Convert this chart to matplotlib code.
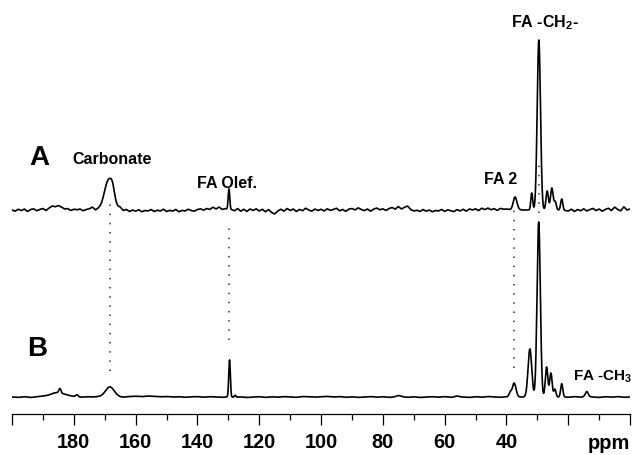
"""
13C NMR spectra A and B (stacked), with peak assignments and dotted guide lines.
"""

import matplotlib.pyplot as plt
import numpy as np
from matplotlib.ticker import FixedLocator, MultipleLocator

plt.rcParams["font.family"] = ["Liberation Sans", "DejaVu Sans"]
plt.rcParams["font.weight"] = "bold"
plt.rcParams["mathtext.default"] = "regular"

# peak tables: (centre ppm, height a.u., FWHM ppm)
PEAKS_A = [
    (168.7, 30.0, 3.2), (167.4, 8.0, 1.5),
    (129.8, 21.0, 0.6),
    (37.2, 13.0, 1.4),
    (31.8, 17.0, 0.7),
    (29.5, 170.0, 1.25),
    (26.8, 19.0, 0.9), (25.3, 22.0, 1.0), (24.2, 8.0, 0.8),
    (22.1, 11.0, 0.8),
]
PEAKS_B = [
    (185.5, 3.5, 5.0), (184.5, 4.5, 0.8), (179.0, 2.0, 1.0),
    (168.3, 10.0, 3.2),
    (129.6, 37.0, 0.6), (127.8, 2.0, 0.6),
    (75.0, 1.2, 1.5), (56.0, 0.8, 1.5),
    (38.8, 4.0, 0.9), (37.5, 14.0, 1.4),
    (32.4, 48.0, 1.4),
    (29.55, 175.0, 1.25),
    (27.0, 30.0, 0.95), (25.6, 24.0, 0.95), (24.3, 8.0, 0.8),
    (22.1, 13.0, 0.8),
    (14.0, 5.0, 1.1),
]

# baseline noise (A: every 1 ppm, B: every 2 ppm, from 200 down to 0)
NOISE_A = [
    0.0, -1.2, 0.8, -0.6, 1.0, -1.5, 0.5, 1.2, -0.8, 0.6,
    1.5, -0.5, 2.0, 4.0, 3.2, 4.5, 3.0, 1.0, 1.5, -0.5,
    0.8, 0.2, 1.0, -0.8, 0.5, 1.2, 3.0, 0.0, 1.0, 0.5,
    0.5, 0.0, 0.0, 0.0, 1.0, 2.5, -0.5, 0.5, -1.5, 0.0,
    -1.2, 0.3, -1.8, -0.5, -1.0, 0.5, -1.5, -0.2, -1.0, 0.8,
    -1.5, -0.3, -1.2, 0.6, -1.8, -0.4, -1.0, 0.8, -0.6, -1.2,
    0.5, 1.2, -0.2, 1.5, 0.5, 2.8, 1.0, 3.0, 0.5, 1.5,
    0.0, 0.5, -0.8, 1.5, -1.2, 0.8, -1.5, 1.0, -0.5, 1.2,
    -1.0, 0.8, -1.8, 0.5, -2.5, -4.0, -1.0, 0.8, -1.2, 1.5,
    -0.5, 1.0, -1.5, 0.6, -0.8, 1.8, 0.0, -1.2, 1.0, -0.5,
    0.8, -1.0, 1.2, -0.4, 0.5, 1.8, -0.8, 0.6, -1.4, 0.9,
    1.5, 0.0, 2.2, 0.5, -0.6, 1.0, -1.2, 0.8, 2.0, 0.2,
    1.2, -0.5, 1.5, 2.5, 0.8, 3.5, 1.0, 2.8, 4.0, 0.5,
    -1.0, -0.2, -1.5, 0.5, -1.2, 0.0, -1.8, -0.5, -1.0, 0.6,
    -1.4, 0.2, -0.8, -1.6, 0.4, -1.0, 0.8, -1.2, 1.0, 0.0,
    1.2, -0.6, 1.8, 0.4, 2.0, 0.2, 1.4, -0.4, 1.6, 0.8,
    1.0, 0.5, 0.0, 0.0, 0.5, 0.0, 0.0, 0.0, 0.0, 0.0,
    0.0, 0.0, 0.0, 0.0, 0.0, 0.0, 0.0, 0.0, 0.0, -0.5,
    -1.0, 0.8, -1.5, 0.5, -0.8, 1.2, -1.0, 0.4, 1.6, -0.6,
    1.0, -1.2, 0.6, 1.8, -0.5, 3.0, 0.5, -0.8, 3.2, 0.0,
    1.0,
]
NOISE_B = [
    0.0, -0.4, 0.3, -0.5, 0.2, 0.6, 0.4, 0.8, 1.0, 1.2,
    0.5, -0.2, 0.3, 0.0, 0.4, 0.6, 0.0, 0.3, -0.2, 0.5,
    0.8, 0.4, 1.0, 0.6, 0.2, 0.5, 0.0, 0.3, -0.3, 0.2,
    0.4, -0.2, 0.3, 0.0, -0.4, 0.2, -0.3, 0.1, -0.5, 0.0,
    0.3, -0.4, 0.2, -0.2, 0.4, 0.0, -0.3, 0.5, 0.2, -0.2,
    0.3, 0.6, 0.0, 0.4, -0.3, 0.2, -0.4, 0.0, 0.5, -0.2,
    0.3, -0.4, 0.1, 0.4, -0.3, 0.2, -0.5, 0.0, 0.3, -0.2,
    0.4, -0.3, 0.2, 0.0, -0.4, 0.3, -0.2, 0.5, 0.0, -0.3,
    0.2, 0.0, 0.0, 0.0, 0.0, 0.0, 0.0, 0.0, -0.2, 0.3,
    -0.3, 0.4, -0.2, 0.5, 0.0, -0.4, 0.3, -0.2, 0.4, -0.3,
    0.0,
]

OFFSET_A = 187.0  # vertical stacking offset of trace A

# dotted guide lines: (ppm, y bottom, y top) in data units
GUIDES = [(168.3, 26.0, 194.0), (129.8, 57.0, 175.0), (37.5, 29.0, 187.0), (29.5, 184.0, 237.0)]

# labels: (text, ppm, y, fontsize, ha)
LABELS = [
    ("A", 191.0, 239.0, 20, "center"),
    ("B", 192.0, 48.0, 20, "center"),
    ("Carbonate", 167.6, 238.0, 11.5, "center"),
    ("FA Olef.", 130.4, 213.0, 11.5, "center"),
    ("FA 2", 42.0, 218.0, 11.5, "center"),
    ("FA -CH$_2$-", 27.5, 374.0, 11.5, "center"),
    ("FA -CH$_3$", 18.6, 20.0, 11, "left"),
]


def spectrum(ppm, peaks, noise):
    grid = np.linspace(200, 0, len(noise))
    y = np.interp(ppm, grid[::-1], np.asarray(noise)[::-1])
    for centre, height, fwhm in peaks:
        y = y + height * np.exp(-4 * np.log(2) * (ppm - centre) ** 2 / fwhm**2)
    return y


ppm = np.linspace(200, 0, 8001)
trace_a = spectrum(ppm, PEAKS_A, NOISE_A) + OFFSET_A
trace_b = spectrum(ppm, PEAKS_B, NOISE_B)

fig = plt.figure(figsize=(6.34, 4.55), dpi=100)
ax = fig.add_axes([12 / 634, 41 / 455, 618 / 634, 414 / 455])
ax.plot(ppm, trace_a, color="black", lw=1.2)
ax.plot(ppm, trace_b, color="black", lw=1.2)

for x, y0, y1 in GUIDES:
    ax.plot([x, x], [y0, y1], color="0.2", lw=1.1, ls=(0, (1, 5)))

for text, x, y, size, ha in LABELS:
    ax.text(x, y, text, fontsize=size, fontweight="bold", ha=ha, va="center")

ax.set_xlim(200, 0)
ax.set_ylim(-17, 397)
for side in ("top", "left", "right"):
    ax.spines[side].set_visible(False)
ax.spines["bottom"].set_linewidth(0.9)
ax.set_yticks([])

major = np.arange(200, -1, -20)
ax.xaxis.set_major_locator(FixedLocator(major))
ax.xaxis.set_minor_locator(MultipleLocator(10))
ax.set_xticklabels(["" if v in (200, 20, 0) else str(v) for v in major])
ax.tick_params(axis="x", which="major", length=8, width=0.9, pad=6, labelsize=14.4)
ax.tick_params(axis="x", which="minor", length=4, width=0.9)
ax.text(1.0, -35 / 414, "ppm", transform=ax.transAxes, fontsize=14.4,
        fontweight="bold", ha="right", va="baseline")

fig.savefig("out.png", dpi=100)
plt.close(fig)
